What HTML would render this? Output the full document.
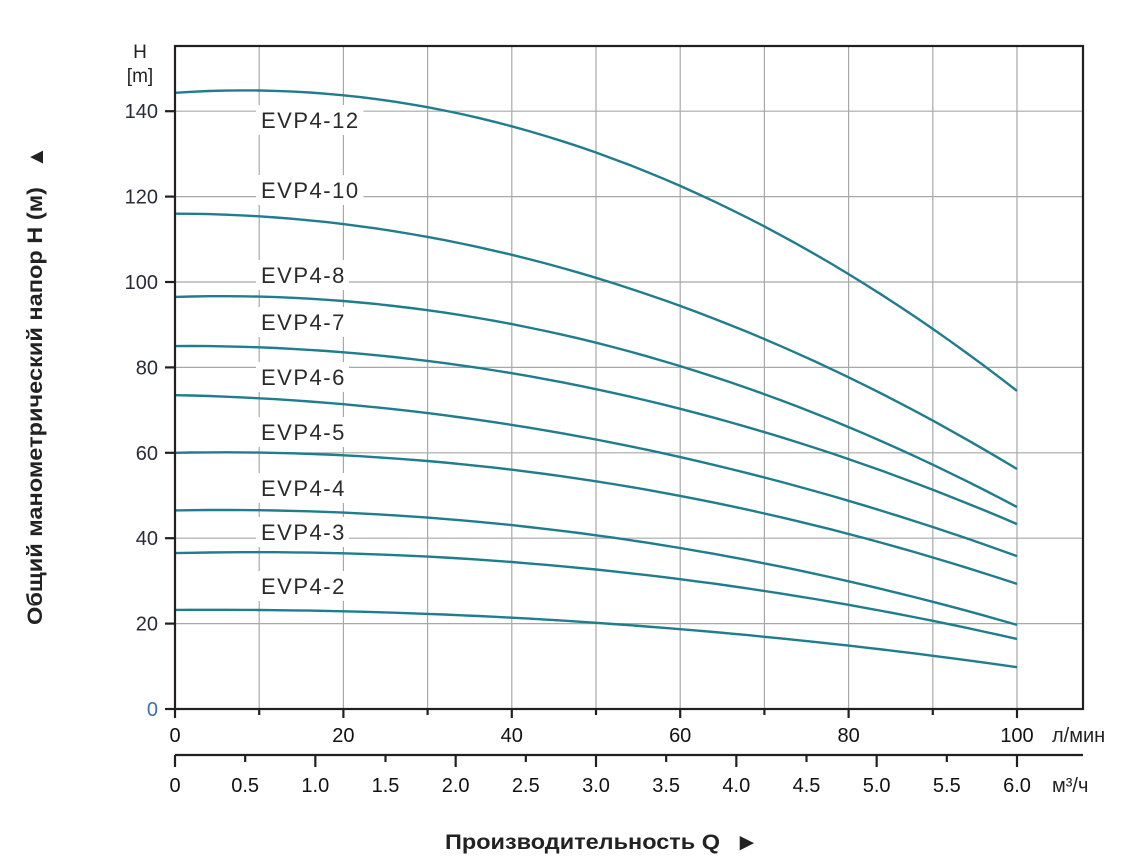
<!DOCTYPE html>
<html><head><meta charset="utf-8"><style>
html,body{margin:0;padding:0;background:#fff;}
svg{display:block}
</style></head><body>
<svg id="s" width="1139" height="865" xmlns="http://www.w3.org/2000/svg" font-family="Liberation Sans, DejaVu Sans, sans-serif">
<rect width="1139" height="865" fill="#fff"/>
<g id="grid" stroke="#a8a8a8" stroke-width="1.2"></g>
<g id="curves" fill="none" stroke="#1f7d8e" stroke-width="2.4"></g>
<g id="labels" font-size="22" fill="#2a2a2a" letter-spacing="1.5"></g>
<rect x="175" y="46" width="908" height="663" fill="none" stroke="#231f20" stroke-width="2.2"/>
<g id="axes" stroke="#231f20" stroke-width="2.2"></g>
<g id="txt" font-size="20" fill="#111"></g>
<text x="140" y="58" font-size="19" fill="#222" text-anchor="middle">H</text>
<text x="140" y="82" font-size="19" fill="#222" text-anchor="middle">[m]</text>
<text transform="translate(42,625) rotate(-90)" font-size="21" font-weight="bold" fill="#222" textLength="438" lengthAdjust="spacingAndGlyphs">Общий манометрический напор H (м)</text>
<text transform="translate(43,168) rotate(-90)" font-size="22" fill="#222">▲</text>
<text x="445" y="849" font-size="21" font-weight="bold" fill="#222" textLength="275" lengthAdjust="spacingAndGlyphs">Производительность Q</text>
<text x="735" y="850" font-size="24" fill="#222">►</text>
<text x="1052" y="742" font-size="20" fill="#222">л/мин</text>
<text x="1052" y="792" font-size="20" fill="#222">м³/ч</text>
</svg>
<script>
const NS="http://www.w3.org/2000/svg";
function el(p,t,a,txt){const e=document.createElementNS(NS,t);for(const k in a)e.setAttribute(k,a[k]);if(txt!==undefined)e.textContent=txt;document.getElementById(p).appendChild(e);return e;}
const X=q=>175+q*8.42, Y=h=>709-h*4.27;
for(let i=1;i<=10;i++)el("grid","line",{x1:X(i*10),x2:X(i*10),y1:46,y2:709});
for(let i=1;i<=7;i++)el("grid","line",{x1:175,x2:1083,y1:Y(i*20),y2:Y(i*20)});
const C=[["EVP4-12",144.3,122.5,74.5,120],["EVP4-10",116,94.4,56.2,190],["EVP4-8",96.5,80.3,47.3,275],["EVP4-7",85,70.3,43.3,322],["EVP4-6",73.5,59,35.8,377],["EVP4-5",60,49.9,29.3,432],["EVP4-4",46.5,37.7,19.7,488],["EVP4-3",36.5,30.4,16.4,532],["EVP4-2",23.2,18.7,9.8,586]];
C.forEach(c=>{const[n,h0,h6,h10,ly]=c;
 const b=((h10-h0)/100-(h6-h0)/60)/40, a=(h6-h0)/60-60*b;
 let d="";for(let q=0;q<=100;q+=2){const h=h0+a*q+b*q*q;d+=(q?"L":"M")+X(q).toFixed(1)+","+Y(h).toFixed(1);}
 el("curves","path",{d});
 el("labels","rect",{x:256,y:ly-15,width:n.length*14.5+6,height:30,fill:"#fff"});
 el("labels","text",{x:261,y:ly+8},n);
});
for(let i=0;i<=7;i++){const y=Y(i*20);el("axes","line",{x1:165,x2:175,y1:y,y2:y});el("txt","text",{x:158,y:y+7,"text-anchor":"end","font-size":20,fill:i==0?"#3a6fb0":"#2a2a3a"},i*20);}
for(let i=0;i<=10;i++){const x=X(i*10);el("axes","line",{x1:x,x2:x,y1:709,y2:i%2?715:718});if(i%2==0)el("txt","text",{x:x,y:742,"text-anchor":"middle"},i*10);}
el("axes","line",{x1:175,x2:1083,y1:755,y2:755});
for(let i=0;i<=12;i++){const x=X(i*100/12);el("axes","line",{x1:x,x2:x,y1:755,y2:i%2?762:767});el("txt","text",{x:x,y:792,"text-anchor":"middle"},i==0?"0":(i/2).toFixed(1));}
</script>
</body></html>
